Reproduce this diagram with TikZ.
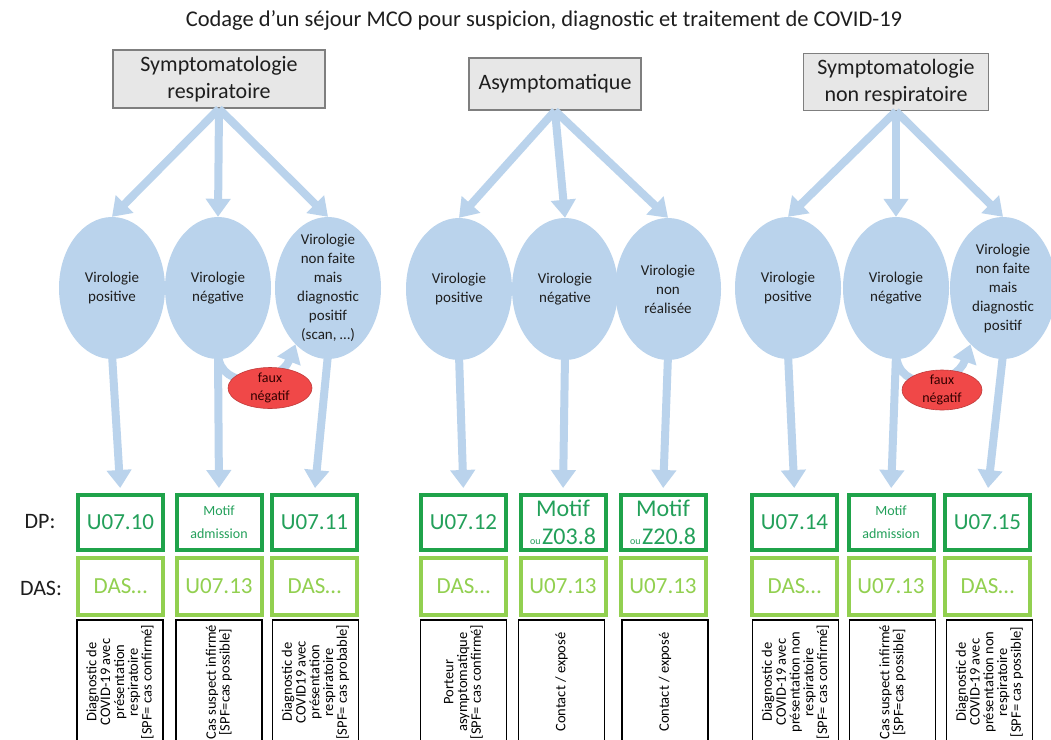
\documentclass[tikz,border=0pt]{standalone}
\usepackage{fontspec}
\setmainfont{Carlito}
\usetikzlibrary{shapes.geometric,arrows.meta}
\newcommand\fsz[2]{\fontsize{#1}{#2}\selectfont}
\definecolor{lblue}{HTML}{BAD3EC}
\definecolor{dpgreen}{HTML}{1FA34A}
\definecolor{dptext}{HTML}{23A05A}
\definecolor{dasgreen}{HTML}{92D050}
\definecolor{tgray}{HTML}{E7E7E7}
\definecolor{tborder}{HTML}{7F7F7F}
\definecolor{fred}{HTML}{F04848}
\definecolor{txt}{HTML}{1E1E1E}
\tikzset{
  topbox/.style={draw=tborder, fill=tgray, line width=1.5pt, align=center, font=\fsz{22}{27}, text=txt, inner sep=0pt},
  viro/.style={ellipse, fill=lblue, minimum width=106pt, minimum height=142pt, inner sep=0pt},
  virotext/.style={align=center, font=\fsz{15}{19}, text=txt},
  dpbox/.style={draw=dpgreen, line width=4pt, minimum width=85pt, minimum height=55pt, text=dptext, font=\fsz{23}{27}, align=center, inner sep=0pt},
  dasbox/.style={draw=dasgreen, line width=4pt, minimum width=85pt, minimum height=57pt, text=dasgreen, font=\fsz{23}{27}, align=center, inner sep=0pt},
  txtbox/.style={draw=black, line width=1.3pt, rotate=90, minimum width=124pt, minimum height=86pt, align=center, font=\fsz{14.5}{13.8}, inner sep=0pt},
  barrow/.style={draw=lblue, line width=8pt, -{Triangle[width=24pt,length=18pt]}},
  faux/.style={ellipse, fill=fred, draw=fred!80!black, line width=0.6pt, minimum width=84pt, minimum height=41pt, inner sep=0pt},
  fauxtext/.style={align=center, font=\fsz{14}{18}, text=black!80!red},
  rowlabel/.style={font=\fsz{22}{26}, text=txt}
}
\begin{document}
\begin{tikzpicture}[x=1pt,y=-1pt]
\useasboundingbox (0,0) rectangle (1051,739);
\clip (0,0) rectangle (1051,739);
\fill[white] (0,0) rectangle (1051,739);

\node[font=\fsz{22.5}{26}, text=txt] (title) at (544,20) {Codage d’un séjour MCO pour suspicion, diagnostic et traitement de COVID-19};

% top boxes
\node[topbox, minimum width=212pt, minimum height=58pt] (t1) at (219,79) {Symptomatologie\\respiratoire};
\node[topbox, minimum width=172pt, minimum height=52pt] (t2) at (555,84) {Asymptomatique};
\node[topbox, minimum width=185pt, minimum height=57pt] (t3) at (896,82) {Symptomatologie\\non respiratoire};

% ellipses
\node[viro, label={[virotext]center:Virologie\\positive}] (e1) at (112,288) {};
\node[viro, label={[virotext]center:Virologie\\négative}] (e2) at (218,288) {};
\node[viro, label={[virotext]center:Virologie\\non faite\\mais\\diagnostic\\positif\\(scan, …)}] (e3) at (328,288) {};
\node[viro, label={[virotext]center:Virologie\\positive}] (e4) at (459,289) {};
\node[viro, label={[virotext]center:Virologie\\négative}] (e5) at (565,289) {};
\node[viro, label={[virotext]center:Virologie\\non\\réalisée}] (e6) at (668,289) {};
\node[viro, label={[virotext]center:Virologie\\positive}] (e7) at (788,288) {};
\node[viro, label={[virotext]center:Virologie\\négative}] (e8) at (896,288) {};
\node[viro, label={[virotext]center:Virologie\\non faite\\mais\\diagnostic\\positif}] (e9) at (1003,288) {};

% DP row
\node[rowlabel] (dplab) at (40,522) {DP:};
\node[rowlabel] (daslab) at (41,588) {DAS:};
\node[dpbox] (d1) at (120.5,522.5) {U07.10};
\node[dpbox, font=\fsz{14}{23}] (d2) at (219,522.5) {Motif\\admission};
\node[dpbox] (d3) at (314.5,522.5) {U07.11};
\node[dpbox] (d4) at (463.5,522.5) {U07.12};
\node[dpbox, font=\fsz{24}{28}] (d5) at (563,522.5) {Motif\\{\fsz{10}{10}ou\,}Z03.8};
\node[dpbox, font=\fsz{24}{28}] (d6) at (663,522.5) {Motif\\{\fsz{10}{10}ou\,}Z20.8};
\node[dpbox] (d7) at (794.5,522.5) {U07.14};
\node[dpbox, font=\fsz{14}{23}] (d8) at (891,522.5) {Motif\\admission};
\node[dpbox] (d9) at (987.5,522.5) {U07.15};

% DAS row
\node[dasbox] (a1) at (120.5,586.5) {DAS…};
\node[dasbox] (a2) at (219,586.5) {U07.13};
\node[dasbox] (a3) at (314.5,586.5) {DAS…};
\node[dasbox] (a4) at (463.5,586.5) {DAS…};
\node[dasbox] (a5) at (563,586.5) {U07.13};
\node[dasbox] (a6) at (663,586.5) {U07.13};
\node[dasbox] (a7) at (794.5,586.5) {DAS…};
\node[dasbox] (a8) at (891,586.5) {U07.13};
\node[dasbox] (a9) at (987.5,586.5) {DAS…};

% description boxes
\node[txtbox] (c1) at (120,682) {Diagnostic de\\COVID-19 avec\\présentation\\respiratoire\\{[SPF= cas confirmé]}};
\node[txtbox] (c2) at (219,682) {Cas suspect infirmé\\{[SPF=cas possible]}};
\node[txtbox] (c3) at (315.5,682) {Diagnostic de\\COVID19 avec\\présentation\\respiratoire\\{[SPF= cas probable]}};
\node[txtbox] (c4) at (463.5,682) {Porteur\\asymptomatique\\{[SPF= cas confirmé]}};
\node[txtbox] (c5) at (561.5,682) {Contact / exposé};
\node[txtbox] (c6) at (665,682) {Contact / exposé};
\node[txtbox] (c7) at (795.5,682) {Diagnostic de\\COVID-19 avec\\présentation non\\respiratoire\\{[SPF= cas confirmé]}};
\node[txtbox] (c8) at (892.5,682) {Cas suspect infirmé\\{[SPF=cas possible]}};
\node[txtbox] (c9) at (989.5,682) {Diagnostic de\\COVID-19 avec\\présentation non\\respiratoire\\{[SPF= cas possible]}};

% top arrows
\foreach \t/\e in {t1/e1,t1/e2,t1/e3,t2/e4,t2/e5,t2/e6,t3/e7,t3/e8,t3/e9}
  \draw[barrow] (\t.south) -- (\e.north);
% bottom arrows
\foreach \e/\d in {e1/d1,e2/d2,e3/d3,e4/d4,e5/d5,e6/d6,e7/d7,e8/d8,e9/d9}
  \draw[barrow, shorten >=5pt] ([yshift=5pt]\e.south) -- (\d.north);

% faux negatif curves
\draw[barrow] ([yshift=5pt]e2.south) .. controls (220,392) and (280,384) .. (e3.240);
\draw[barrow] ([yshift=5pt]e8.south) .. controls (898,394) and (956,386) .. (e9.240);
\node[faux, label={[fauxtext]center:faux\\négatif}] (f1) at (270,388) {};
\node[faux, minimum width=80pt, minimum height=40pt, label={[fauxtext]center:faux\\négatif}] (f2) at (942,390) {};
\end{tikzpicture}
\end{document}
